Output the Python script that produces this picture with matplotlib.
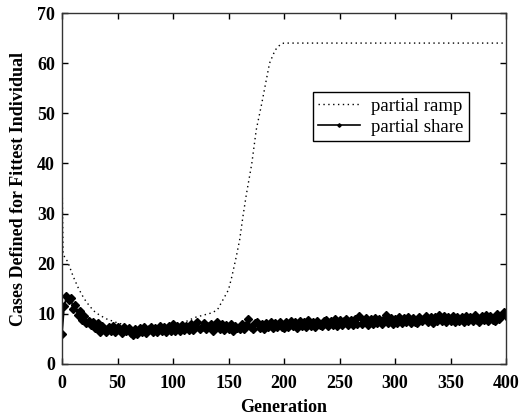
import matplotlib
matplotlib.use('Agg')
import matplotlib.pyplot as plt

plt.rcParams['font.family'] = 'Liberation Serif'

# partial ramp (dotted curve)
ramp_gen = [0, 1, 3, 5, 10, 15, 20, 25, 30, 35, 40, 45, 50, 55, 60, 65,
            70, 75, 80, 85, 90, 95, 100, 105, 110, 115, 120, 125, 130, 135,
            140, 145, 150, 153, 157, 160, 163, 166, 171, 175, 180, 184, 187,
            192, 197, 200, 250, 300, 350, 400]
ramp_val = [38.0, 22.0, 21.0, 20.5, 17.5, 15.0, 13.0, 11.5, 10.3, 9.6, 9.0,
            8.6, 8.2, 7.9, 7.6, 7.4, 7.2, 7.1, 7.0, 7.1, 7.2, 7.3, 7.6, 7.9,
            8.3, 8.8, 9.3, 9.6, 9.9, 10.2, 10.8, 12.8, 14.8, 17.4, 21.4,
            24.7, 29.4, 33.7, 40.0, 46.7, 52.0, 56.6, 60.0, 62.6, 63.8, 64.0,
            64.0, 64.0, 64.0, 64.0]

# partial share, every 2nd generation
share_gen = list(range(0, 401, 2))
share_val = [
    6.0, 11.5, 13.5, 12.8, 13.2, 11.0, 11.8, 9.8, 10.6, 8.8,
    9.6, 8.2, 8.6, 7.8, 8.4, 7.2, 8.1, 6.4, 7.6, 7.0,
    6.3, 7.4, 6.6, 7.5, 6.4, 7.3, 6.7, 6.2, 7.4, 6.5,
    7.2, 6.1, 5.8, 6.9, 6.0, 7.1, 6.3, 7.3, 6.2, 7.0,
    7.4, 6.3, 7.2, 6.4, 7.6, 6.5, 7.3, 6.4, 7.5, 6.6,
    8.0, 6.6, 7.5, 6.5, 7.7, 6.7, 7.6, 6.8, 7.9, 6.7,
    7.5, 8.3, 7.0, 7.4, 8.1, 6.9, 7.5, 7.9, 6.6, 7.6,
    8.3, 7.0, 7.9, 6.8, 7.8, 7.0, 7.9, 6.6, 7.6, 7.1,
    6.9, 8.0, 6.9, 7.8, 9.0, 7.3, 7.0, 8.2, 8.4, 7.1,
    8.0, 7.0, 8.1, 7.3, 8.3, 7.1, 8.2, 7.4, 8.4, 7.4,
    7.2, 8.3, 7.4, 8.5, 7.5, 8.4, 7.1, 8.6, 7.6, 8.3,
    7.4, 8.7, 7.6, 8.4, 7.3, 8.6, 7.8, 7.5, 8.5, 8.8,
    7.6, 8.6, 7.8, 8.9, 7.5, 8.7, 7.7, 8.5, 9.0, 7.8,
    8.7, 7.7, 8.9, 8.0, 9.5, 7.9, 8.8, 9.1, 7.8, 8.9,
    8.0, 9.2, 8.1, 9.0, 7.9, 8.9, 9.7, 8.2, 9.1, 8.0,
    9.0, 8.1, 9.3, 8.2, 9.1, 8.3, 9.4, 8.1, 9.2, 8.4,
    8.2, 9.3, 8.5, 8.9, 9.5, 8.4, 9.3, 8.2, 9.4, 8.6,
    9.8, 8.5, 9.5, 8.4, 9.3, 8.6, 9.6, 8.3, 9.4, 8.5,
    9.3, 8.4, 9.6, 8.6, 9.4, 8.5, 9.7, 8.7, 8.4, 9.5,
    8.7, 9.8, 8.6, 9.6, 8.8, 8.5, 9.9, 8.9, 9.7, 10.3,
    9.6]

x_ticks = [0, 50, 100, 150, 200, 250, 300, 350, 400]
y_ticks = [0, 10, 20, 30, 40, 50, 60, 70]

fig = plt.figure(figsize=(5.2, 4.18), dpi=100)
ax = fig.add_axes([62/520, 54/418, 444/520, 351/418])

ax.plot(ramp_gen, ramp_val, color='black', linestyle=(0, (1, 2.5)),
        linewidth=1.0, label='partial ramp')
ax.plot(share_gen, share_val, color='black', linestyle='-', linewidth=1.2,
        marker='D', markersize=4.5, label='partial share')

ax.set_xlim(0, 400)
ax.set_ylim(0, 70)
ax.set_xticks(x_ticks)
ax.set_yticks(y_ticks)
ax.tick_params(direction='in', top=True, right=True, length=4, width=1,
               labelsize=13, pad=5)
ax.tick_params(axis='x', pad=8)
for lab in ax.get_xticklabels() + ax.get_yticklabels():
    lab.set_fontweight('bold')
for sp in ax.spines.values():
    sp.set_linewidth(1.0)
    sp.set_color('#333333')

ax.set_xlabel('Generation', fontsize=13, fontweight='bold', labelpad=5)
ax.set_ylabel('Cases Defined for Fittest Individual', fontsize=13,
              fontweight='bold', labelpad=7)

leg = ax.legend(loc='upper left', bbox_to_anchor=(0.565, 0.775),
                fontsize=13.5, fancybox=False, framealpha=1, edgecolor='black',
                handlelength=2.2, borderaxespad=0, markerscale=0.4,
                borderpad=0.3, labelspacing=0.2, handletextpad=0.6)
leg.get_frame().set_linewidth(1.0)

plt.savefig('out.png', dpi=100)
